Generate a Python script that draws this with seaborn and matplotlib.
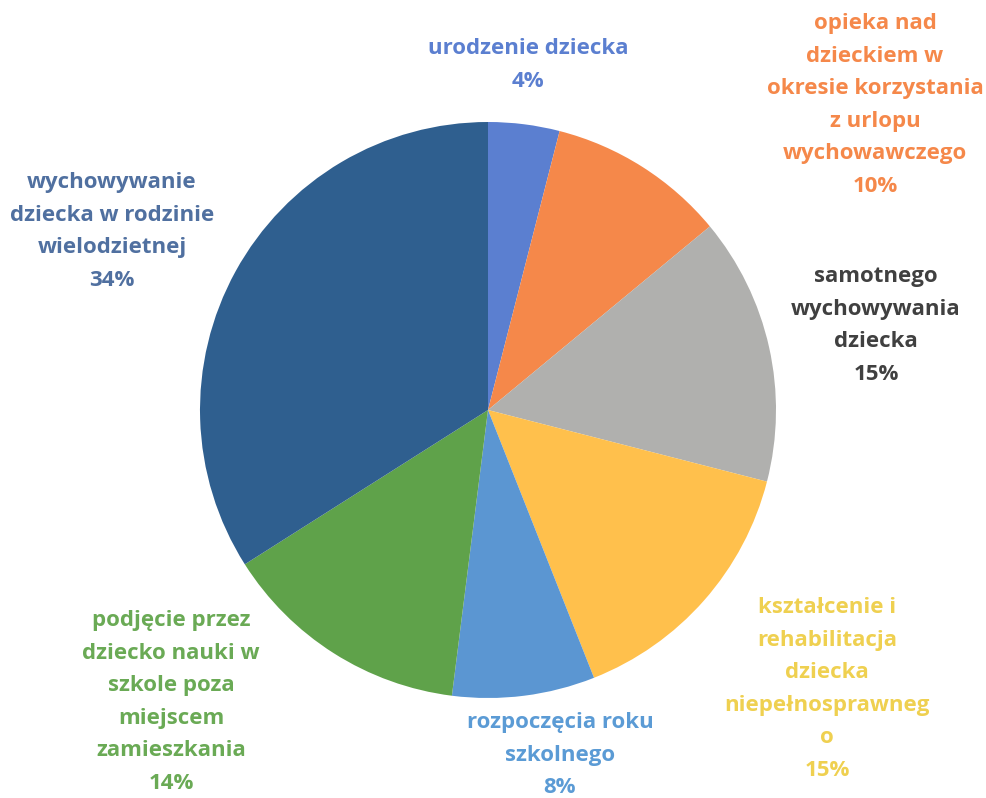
import matplotlib
matplotlib.use("Agg")
import matplotlib.pyplot as plt
import seaborn as sns

# dane
kategorie = [
    "urodzenie dziecka",
    "opieka nad\ndzieckiem w\nokresie korzystania\nz urlopu\nwychowawczego",
    "samotnego\nwychowywania\ndziecka",
    "kształcenie i\nrehabilitacja\ndziecka\nniepełnosprawneg\no",
    "rozpoczęcia roku\nszkolnego",
    "podjęcie przez\ndziecko nauki w\nszkole poza\nmiejscem\nzamieszkania",
    "wychowywanie\ndziecka w rodzinie\nwielodzietnej",
]
udzialy = [4, 10, 15, 15, 8, 14, 34]

kolory = ["#5B7FD0", "#F5884A", "#B0B0AE", "#FFC04C", "#5B96D2", "#5FA24A", "#2F5F8F"]
kolory_tekstu = ["#5B7FD0", "#F5884A", "#404040", "#EFD050", "#5B9BD5", "#6AAA55", "#5070A0"]
# środki etykiet w pikselach (x, y górnej linii)
pozycje = [(528, 47), (875, 22), (876, 275), (827, 606), (560, 721), (171, 619), (112, 181)]

sns.set_theme(style="white")
plt.rcParams["font.family"] = ["Open Sans", "DejaVu Sans"]

W, H = 986, 798
fig = plt.figure(figsize=(W / 100, H / 100), dpi=100)
cx, cy, r = 488, 410, 288
ax = fig.add_axes([(cx - r) / W, 1 - (cy + r) / H, 2 * r / W, 2 * r / H])
ax.pie(udzialy, colors=kolory, startangle=90, counterclock=False, radius=1,
       wedgeprops=dict(linewidth=0))
ax.set_xlim(-1, 1)
ax.set_ylim(-1, 1)
ax.set_aspect("equal")
ax.axis("off")

for nazwa, val, kol, (px, py) in zip(kategorie, udzialy, kolory_tekstu, pozycje):
    tekst = f"{nazwa}\n{val}%"
    fig.text(px / W, 1 - (py - 9) / H, tekst, ha="center", va="top",
             color=kol, fontsize=16, fontweight="bold", linespacing=1.72)

fig.savefig("out.png", dpi=100, facecolor="white")
